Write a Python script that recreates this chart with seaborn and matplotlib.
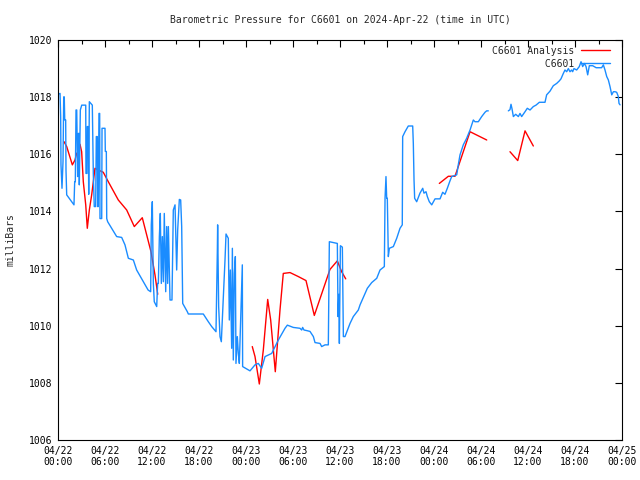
import numpy as np
import pandas as pd
import matplotlib
matplotlib.use("Agg")
import matplotlib.pyplot as plt
import seaborn as sns
from matplotlib.lines import Line2D

nan = np.nan

# hours since 2024-04-22 00:00 UTC; nan marks a gap in the record
station_hours = [
    0.0, 0.26, 0.34, 0.38, 0.51, 0.64, 0.73, 0.80, 0.86, 0.98, 1.02, 1.11, 2.04, 2.13, 2.21,
    2.30, 2.39, 2.43, 2.51, 2.59, 2.68, 2.72, 2.85, 3.03, 3.54, 3.57, 3.70, 3.74, 3.87, 3.92,
    4.00, 4.38, 4.51, 4.63, 4.81, 4.89, 5.02, 5.07, 5.14, 5.23, 5.32, 5.36, 5.58, 5.62, 6.00,
    6.04, 6.17, 6.22, 6.34, 7.49, 8.13, 8.55, 8.98, 9.62, 10.04, 10.90, 11.50, 11.83,
    11.91, 12.04, 12.17, 12.29, 12.60, 12.72, 12.81, 12.94, 13.06, 13.19, 13.32, 13.45, 13.57,
    13.75, 13.87, 14.00, 14.09, 14.30, 14.55, 14.72, 14.94, 15.15, 15.28, 15.49, 15.66, 15.79,
    15.92, 16.51, 16.64, 18.55, 19.19, 19.62, 20.17, 20.34, 20.38, 20.51, 20.68, 20.85, 21.32,
    21.45, 21.74, 21.87, 22.00, 22.17, 22.26, 22.38, 22.51, 22.64, 22.72, 22.89, 23.02, 23.15,
    23.53, 23.57, 24.51, 25.15, 25.57, 26.00, 26.43, 27.28, 28.13, 28.98, 29.28, 30.04, 30.89,
    31.11, 31.23, 31.40, 31.74, 32.17, 32.60, 32.81, 33.45, 33.66, 34.09, 34.51, 34.64, 35.66,
    35.75, 35.85, 35.92, 36.05, 36.30, 36.43, 36.64, 37.28, 37.70, 38.34, 38.56, 39.49, 40.05,
    40.69, 41.11, 41.66, 41.75, 41.87, 41.96, 42.04, 42.17, 42.30, 42.81, 43.24, 43.66, 43.95,
    44.00, 44.30, 44.72, 45.28, 45.36, 45.45, 45.53, 45.79, 46.21, 46.56, 46.72, 46.98, 47.15,
    47.40, 47.71, 48.13, 48.77, 49.11, 49.40, 49.70, 50.04, 50.26, 50.90, 51.10, 51.32, 51.74,
    52.17, 52.60, 53.02, 53.23, 53.66, 54.09, 54.51, 54.72, 54.93, nan,
    57.49, 57.70, 57.83, 57.96, 58.13, 58.43, 58.77, 58.98, 59.19, 59.62, 59.91, 60.26, 60.68,
    61.02, 61.45, 62.17, 62.38, 62.81, 63.03, 63.23, 63.66, 64.00, 64.21, 64.51, 64.72, 64.94,
    65.15, 65.36, 65.57, 65.70, 65.87, 66.21, 66.55, 66.77, 66.98, 67.20, 67.41, 67.62, 67.83,
    68.26, 68.70, 69.40, 69.62, 69.83, 70.05, 70.26, 70.47, 70.69, 70.90, 71.11, 71.32, 71.53,
    71.62, 71.75,
]
station_mbar = [
    1018.10, 1018.13, 1017.32, 1015.63, 1014.81, 1015.75, 1018.01, 1018.01, 1017.20, 1017.20,
    1015.45, 1014.58, 1014.23, 1015.04, 1015.04, 1017.55, 1017.55, 1016.68, 1015.22, 1016.73,
    1016.73, 1014.93, 1017.55, 1017.72, 1017.72, 1015.33, 1015.33, 1016.97, 1016.97, 1014.60,
    1017.84, 1017.72, 1015.28, 1014.17, 1014.17, 1016.62, 1016.62, 1014.17, 1014.17, 1017.43,
    1017.43, 1013.75, 1013.75, 1016.91, 1016.91, 1016.10, 1016.10, 1013.75, 1013.64, 1013.12,
    1013.09, 1012.83, 1012.36, 1012.30, 1011.95, 1011.54, 1011.25, 1011.19,
    1013.53, 1014.34, 1011.48, 1010.84, 1010.67, 1011.48, 1011.48, 1013.12, 1013.93, 1011.48,
    1013.12, 1011.54, 1013.93, 1011.19, 1013.47, 1011.48, 1013.47, 1010.90, 1010.90, 1014.05,
    1014.23, 1011.95, 1013.35, 1014.42, 1014.40, 1013.47, 1010.78, 1010.49, 1010.41, 1010.41,
    1010.14, 1009.97, 1009.79, 1012.59, 1013.53, 1010.67, 1009.62, 1009.44, 1012.30, 1013.21,
    1013.06, 1010.20, 1011.95, 1009.21, 1012.71, 1008.80, 1011.83, 1012.42, 1008.68, 1009.62,
    1009.03, 1008.68, 1012.13, 1008.57, 1008.42, 1008.63, 1008.68, 1008.51, 1008.92, 1009.03,
    1009.50, 1009.91, 1010.02, 1009.94, 1009.91, 1009.85, 1009.94, 1009.85, 1009.83, 1009.80,
    1009.62, 1009.41, 1009.38, 1009.27, 1009.33, 1009.33, 1012.94, 1012.88, 1010.32, 1011.10,
    1009.38, 1012.80, 1012.75, 1009.62, 1009.62, 1010.08, 1010.32, 1010.55, 1010.73, 1011.31,
    1011.51, 1011.66, 1011.95, 1012.07, 1014.46, 1015.22, 1014.46, 1014.46, 1012.42, 1012.71,
    1012.77, 1013.06, 1013.41, 1013.53, 1016.62, 1016.79, 1016.99, 1016.99, 1016.38, 1015.10,
    1014.46, 1014.34, 1014.64, 1014.81, 1014.64, 1014.69, 1014.52, 1014.34, 1014.23, 1014.44,
    1014.44, 1014.67, 1014.60, 1014.81, 1015.07, 1015.22, 1015.28, 1015.63, 1015.98, 1016.33,
    1016.56, 1016.85, 1017.20, 1017.14, 1017.14, 1017.32, 1017.47, 1017.52, 1017.52, nan,
    1017.52, 1017.56, 1017.75, 1017.59, 1017.32, 1017.40, 1017.32, 1017.43, 1017.32, 1017.49,
    1017.61, 1017.55, 1017.67, 1017.72, 1017.82, 1017.82, 1018.08, 1018.21, 1018.31, 1018.40,
    1018.48, 1018.57, 1018.64, 1018.83, 1018.95, 1018.89, 1019.00, 1018.89, 1018.95, 1018.89,
    1019.00, 1018.95, 1019.07, 1019.24, 1019.07, 1019.18, 1019.07, 1018.78, 1019.10, 1019.10,
    1019.03, 1019.03, 1019.13, 1018.95, 1018.72, 1018.60, 1018.37, 1018.08, 1018.19, 1018.19,
    1018.17, 1018.02, 1017.78, 1017.73,
]

analysis_hours = [
    0.77, 1.11, 1.83, 2.17, 2.38, 2.60, 2.81, 3.02, 3.23, 3.54, 3.74, 4.00, 4.30, 4.51, 4.72,
    5.15, 5.78, 6.42, 7.70, 8.77, 9.74, 10.76, 11.32, 11.87, 12.38, 12.73, nan,
    24.80, 25.15, 25.70, 26.21, 26.77, 27.15, 27.74, 28.34, 28.76, 29.62, 30.68, 31.66, 32.72,
    34.72, 35.66, 36.21, 36.73, nan,
    48.68, 49.83, 50.68, 52.60, 54.73, nan,
    57.70, 58.69, 59.62, 60.68,
]
analysis_mbar = [
    1016.44, 1016.27, 1015.63, 1015.80, 1016.03, 1016.09, 1016.35, 1016.09, 1015.04, 1014.23,
    1013.41, 1014.05, 1014.58, 1015.04, 1015.51, 1015.45, 1015.37, 1015.04, 1014.40, 1014.05,
    1013.47, 1013.78, 1013.18, 1012.59, 1011.78, 1011.10, nan,
    1009.27, 1008.92, 1007.96, 1009.15, 1010.92, 1010.20, 1008.39, 1010.55, 1011.83, 1011.86,
    1011.72, 1011.58, 1010.36, 1011.97, 1012.27, 1011.89, 1011.64, nan,
    1014.98, 1015.23, 1015.23, 1016.79, 1016.50, nan,
    1016.09, 1015.78, 1016.82, 1016.29,
]

tick_hours = list(range(0, 73, 6))
tick_labels = ["04/22\n00:00", "04/22\n06:00", "04/22\n12:00", "04/22\n18:00",
               "04/23\n00:00", "04/23\n06:00", "04/23\n12:00", "04/23\n18:00",
               "04/24\n00:00", "04/24\n06:00", "04/24\n12:00", "04/24\n18:00",
               "04/25\n00:00"]


def to_frame(hours, mbar, name):
    d = pd.DataFrame({"hour": hours, "mbar": mbar})
    d["seg"] = d["mbar"].isna().cumsum()
    d["series"] = name
    d = d.dropna()
    d["unit"] = name + "_" + d["seg"].astype(str)
    return d


df = pd.concat([to_frame(analysis_hours, analysis_mbar, "C6601 Analysis"),
                to_frame(station_hours, station_mbar, "C6601")], ignore_index=True)

RED = "#ff0000"
BLUE = "#1a8cff"

sns.set_style("white")
plt.rcParams["font.family"] = ["DejaVu Sans Mono"]
plt.rcParams["font.size"] = 7

fig = plt.figure(figsize=(6.4, 4.8), dpi=100)
ax = fig.add_axes([58 / 640, 40 / 480, 564 / 640, 400 / 480])

sns.lineplot(data=df, x="hour", y="mbar", hue="series", units="unit",
             estimator=None, sort=False, palette={"C6601 Analysis": RED, "C6601": BLUE},
             hue_order=["C6601 Analysis", "C6601"], linewidth=1.0, legend=False, ax=ax)

ax.set_xlim(0, 72)
ax.set_ylim(1006, 1020)
ax.set_xticks(tick_hours)
ax.set_xticklabels(tick_labels)
ax.set_xticks(range(0, 73, 3), minor=True)
ax.set_yticks(range(1006, 1021, 2))
ax.tick_params(which="both", direction="in", top=True, right=True, width=0.8, colors="black",
               labelsize=7, pad=4)
ax.tick_params(which="major", length=5)
ax.tick_params(which="minor", length=3)
for sp in ax.spines.values():
    sp.set_color("black")
    sp.set_linewidth(0.8)

ax.set_xlabel("")
ax.set_ylabel("milliBars", fontsize=7, labelpad=10)
ax.set_title("Barometric Pressure for C6601 on 2024-Apr-22 (time in UTC)", fontsize=7, pad=12)

handles = [Line2D([], [], color=RED, lw=1.0), Line2D([], [], color=BLUE, lw=1.0)]
ax.legend(handles, ["C6601 Analysis", "         C6601"], loc="upper right", frameon=False,
          markerfirst=False, handlelength=3.0, handletextpad=0.7, labelspacing=0.3,
          borderaxespad=0.2, bbox_to_anchor=(1 - 6 / 564, 1.0), fontsize=7)

fig.savefig("out.png", dpi=100)
